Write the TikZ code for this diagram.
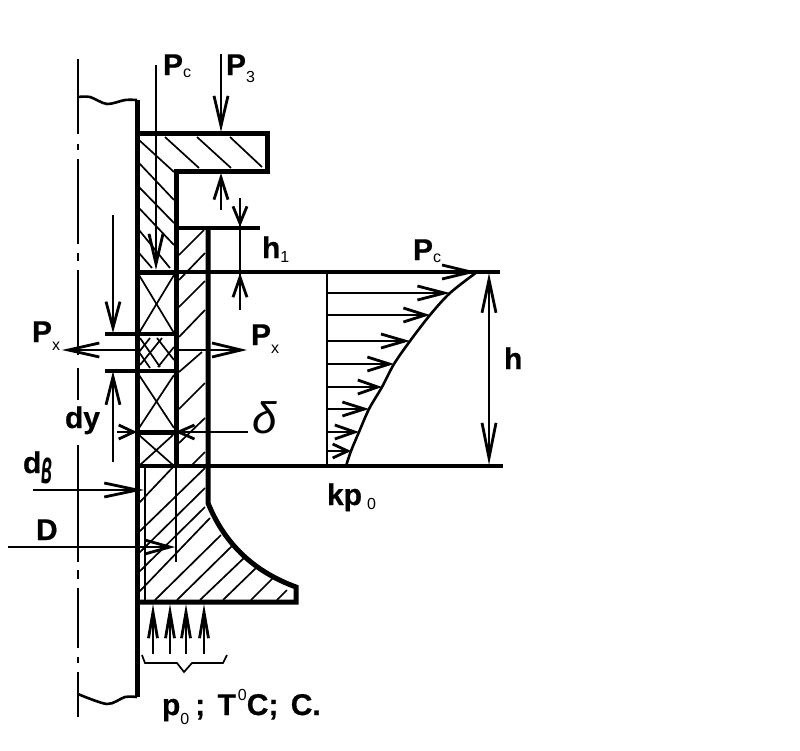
\documentclass[tikz,border=0pt]{standalone}
\usepackage{fontspec}
\usepackage{graphicx}
\setmainfont{Liberation Sans}[BoldFeatures={FakeBold=0.6}]
\usetikzlibrary{arrows.meta}
\newcommand{\subt}[2][2]{{\fontsize{16}{16}\selectfont\mdseries\raisebox{-#1pt}{#2}}}
\tikzset{
    wall/.style={line width=5pt},
    midline/.style={line width=3.4pt},
    thinline/.style={line width=2.6pt},
    hatchline/.style={line width=1.7pt},
    arrowline/.style={line width=2.8pt,-{Straight Barb[length=#1pt,width=14pt]}},
    arrowline/.default=28,
    pressline/.style={line width=2.8pt,-{Straight Barb[length=26pt,width=9pt]}},
    lbl/.style={anchor=base west,inner sep=0pt,outer sep=0pt,font=\fontsize{30}{32}\selectfont\bfseries}
}
\begin{document}
\begin{tikzpicture}[x=1pt,y=-1pt]
    \useasboundingbox (0,0) rectangle (800,750);
    \foreach \ya/\yb in {59/134,144/150,159/244,253/261,270/355,368/400,445/562,570/579,588/648,657/663,672/717}
        \draw[thinline] (78,\ya) -- (78,\yb);
    \draw[thinline] plot[smooth] coordinates {(78,97) (90,97) (107,104) (125,100) (137,100)};
    \draw[thinline] plot[smooth] coordinates {(78,694) (107,704) (125,697) (137,697)};
    \foreach \xa/\ya/\xb/\yb in {
        165/137/199/168, 197/137/231/168, 230/137/262/167,
        139/140/174/172, 139/163/174/200, 139/187/174/223, 139/208/174/245, 139/230/170/268, 139/253/152/268,
        179/255/204/230, 179/280/205/253, 179/307/205/281, 179/337/205/310, 179/372/202/352, 179/409/205/383, 179/443/205/418, 192/465/205/452,
        139/275/174/333, 139/333/174/275,
        140/338/160/367, 157/338/174/360, 139/352/150/368, 140/365/162/338, 158/367/174/347, 139/352/150/338,
        139/375/174/428, 139/428/174/375,
        139/435/173/465, 140/465/173/435,
        139/503/175/465, 205/468/139/532, 205/488/139/553, 205/507/139/572, 210/518/139/592, 221/535/155/600,
        233/545/177/600, 245/557/200/600, 257/567/223/600, 273/578/251/600, 287/590/277/600}
        \draw[hatchline] (\xa,\ya) -- (\xb,\yb);
    \draw[wall] (137,100) -- (137,697);
    \draw[wall] (137,133) -- (267,133) -- (267,171) -- (176,171) -- (176,466);
    \draw[wall] (208,228) -- (208,503) .. controls (225,545) and (255,572) .. (296,587) -- (296,602) -- (137,602);
    \draw[midline] (176,228) -- (260,228);
    \draw[thinline] (145,466) -- (145,602);
    \draw[thinline] (176,466) -- (176,562);
    \draw[wall] (137,272) -- (176,272);
    \draw[midline] (176,272) -- (500,272);
    \draw[midline] (137,466) -- (503,466);
    \draw[midline] (105,334) -- (176,334);
    \draw[midline] (105,371) -- (176,371);
    \draw[wall] (137,432) -- (176,432);
    \draw[thinline] (327,272) -- (327,466);
    \draw[thinline] plot[smooth] coordinates {(346,466) (351,451) (359,432) (369,409) (382,387) (394,364) (410,341) (430,315) (450,293) (477,272)};
    \foreach \yy/\xx/\ll in {293/450/27, 315/430/22, 341/410/24, 364/394/22, 387/382/20, 409/369/22, 432/359/20, 451/351/15, 272/477/29}
        \draw[arrowline=\ll] (327,\yy) -- (\xx,\yy);
    \draw[arrowline=30] (156,65) -- (156,270);
    \draw[arrowline=30] (221,54) -- (221,132);
    \draw[arrowline=22] (221,210) -- (221,173);
    \draw[thinline] (240,212) -- (240,290);
    \draw[arrowline=17] (240,198) -- (240,227);
    \draw[arrowline=20] (240,310) -- (240,273);
    \draw[arrowline=26] (113,215) -- (113,333);
    \draw[arrowline=28] (113,462) -- (113,371);
    \draw[arrowline=31] (135,350) -- (62,350);
    \draw[arrowline=29] (176,350) -- (247,350);
    \draw[arrowline=15] (117,432) -- (137,432);
    \draw[arrowline=16] (248,432) -- (175,432);
    \draw[arrowline=33] (33,490) -- (144,490);
    \draw[arrowline=25] (8,547) -- (175,547);
    \foreach \xx in {153,170,186,204}
        \draw[pressline] (\xx,654) -- (\xx,604);
    \draw[arrowline=33] (489,330) -- (489,273);
    \draw[arrowline=35] (489,330) -- (489,465);
    \draw[hatchline] (142,655) -- (145,663) -- (177,663) -- (184,672) -- (192,663) -- (223,663) -- (227,655);
    \node[lbl] (pcleft) at (163,75) {P\subt{c}};
    \node[lbl] (pz) at (226,75) {P\subt[7]{3}};
    \node[lbl] (hone) at (262,258) {h\subt[4]{1}};
    \node[lbl] (pcright) at (413,260) {P\subt{c}};
    \node[lbl] (hh) at (504,369) {h};
    \node[lbl] (kp) at (327,505) {kp\,\subt[4]{0}};
    \node[lbl] (pxleft) at (32,342) {P\subt[8]{x}};
    \node[lbl] (pxright) at (251,345) {P\subt[8]{x}};
    \node[lbl] (dy) at (65,428) {dy};
    \node[lbl,font=\fontsize{44}{46}\selectfont\itshape] (delta) at (252,433) {δ};
    \node[lbl] (dv) at (23,473) {d\raisebox{-10pt}{\fontsize{24}{24}\selectfont\itshape\scalebox{.75}[2]{в}}};
    \node[lbl] (dd) at (36,540) {D};
    \node[lbl] (pnull) at (162,715) {p\subt[9]{0}\hspace{6pt}; \hspace{4pt}T\hspace{2pt}\raisebox{15pt}{\subt[0]{0}}C; \hspace{4pt}C.};
\end{tikzpicture}
\end{document}
